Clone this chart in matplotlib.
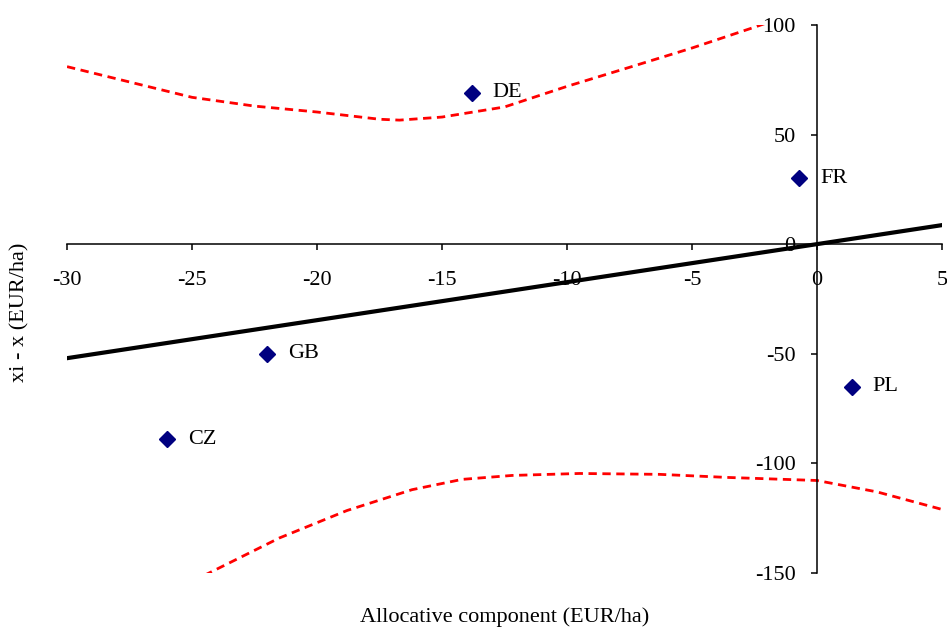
import matplotlib
matplotlib.use("Agg")
from matplotlib import pyplot as plt

plt.rcParams['font.family'] = ['Liberation Serif', 'DejaVu Serif']
plt.rcParams['axes.unicode_minus'] = False

# countries (scatter)
countries = ['DE', 'FR', 'GB', 'CZ', 'PL']
alloc = [-13.8, -0.7, -22.0, -26.0, 1.4]
dev = [69, 30, -50, -89, -65]

# regression line
reg_x = [-30, 5]
reg_y = [-52, 8.7]

# upper and lower bands (red dashed)
up_x = [-30, -27.5, -25, -22.5, -20, -17.5, -16.7, -15, -12.5, -10, -7.5, -5, -2.5, -1]
up_y = [81, 74, 67, 63, 60.3, 57, 56.6, 58, 62.6, 72, 80.7, 89.5, 99, 105]
lo_x = [-25, -24.6, -21.5, -18.8, -16.2, -14.2, -12.2, -9.5, -6.3, -3.6, 0, 2.4, 5]
lo_y = [-154, -151.6, -134, -121.5, -112, -107.3, -105.5, -104.6, -105, -106.4, -107.8, -113, -121]

fig = plt.figure(figsize=(9.47, 6.28), dpi=100)
ax = fig.add_axes([0.0708, 0.0876, 0.9239, 0.8726])

ax.plot(up_x, up_y, color='red', linestyle=(0, (3, 2)), linewidth=2)
ax.plot(lo_x, lo_y, color='red', linestyle=(0, (3, 2)), linewidth=2)
ax.plot(reg_x, reg_y, color='black', linewidth=3)
ax.plot(alloc, dev, linestyle='none', marker='D', markersize=8, color='#000080')

for name, x, y in zip(countries, alloc, dev):
    ax.annotate(name, (x, y), xytext=(15, 0), textcoords='offset points',
                va='center', ha='left', fontsize=16)

ax.set_xlim(-30, 5)
ax.set_ylim(-150, 100)
ax.set_xticks(range(-30, 6, 5))
ax.set_yticks(range(-150, 101, 50))

# axes crossing at zero
ax.spines['left'].set_position(('data', 0))
ax.spines['bottom'].set_position(('data', 0))
ax.spines['right'].set_visible(False)
ax.spines['top'].set_visible(False)
for s in ['left', 'bottom']:
    ax.spines[s].set_linewidth(1.1)

ax.tick_params(axis='x', direction='out', length=4.5, width=1.1, labelsize=16, pad=15)
ax.tick_params(axis='y', direction='out', length=4.5, width=1.1, labelsize=16, pad=11)

fig.text(0.021, 0.503, 'xi - x (EUR/ha)', rotation=90, ha='center', va='center', fontsize=16)
fig.text(0.533, 0.017, 'Allocative component (EUR/ha)', ha='center', va='center', fontsize=16)

fig.savefig('out.png', dpi=100)
